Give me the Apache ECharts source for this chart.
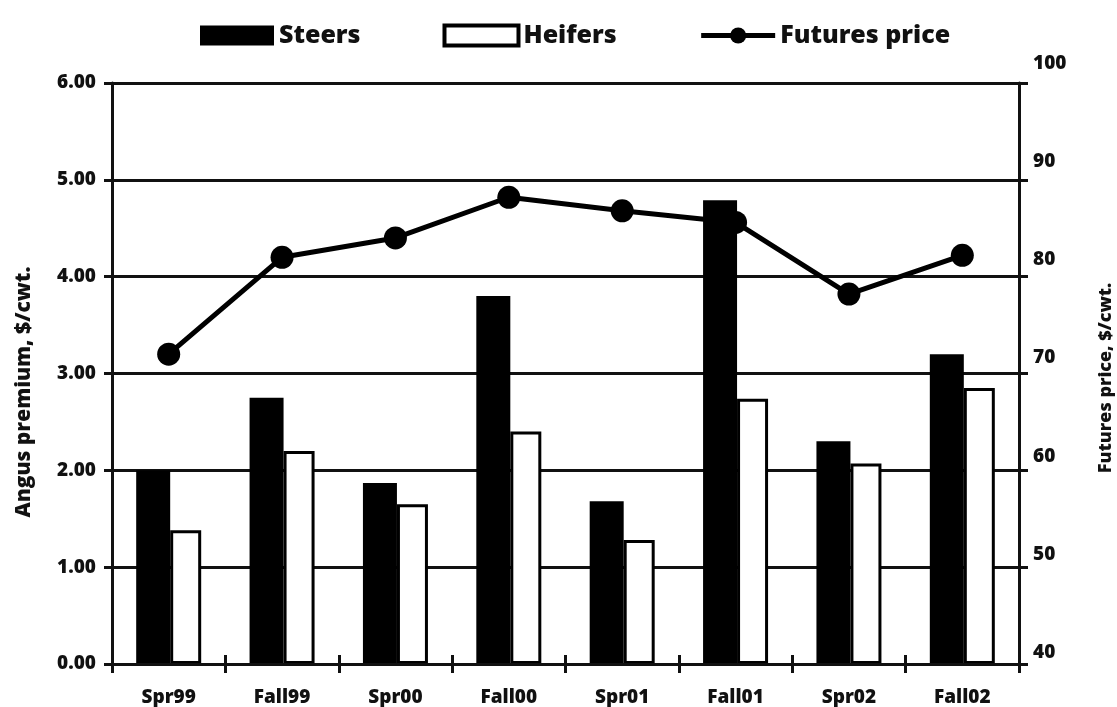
<!DOCTYPE html>
<html>
<head>
<meta charset="utf-8">
<script src="https://cdn.jsdelivr.net/npm/echarts@6/dist/echarts.min.js"></script>
<style>
  html, body { margin: 0; padding: 0; background: #fff; }
  #chart { width: 1117px; height: 707px; }
</style>
</head>
<body>
<div id="chart"></div>
<script>
// Sale seasons
const seasons = ['Spr99', 'Fall99', 'Spr00', 'Fall00', 'Spr01', 'Fall01', 'Spr02', 'Fall02'];
// Angus premium, $/cwt.
const steers  = [2.00, 2.75, 1.87, 3.80, 1.68, 4.79, 2.30, 3.20];
const heifers = [1.38, 2.20, 1.65, 2.40, 1.28, 2.74, 2.07, 2.85];
// Futures price, $/cwt.
const futures = [72.0, 82.0, 84.0, 88.2, 86.8, 85.6, 78.2, 82.2];

const FONT = 'Open Sans';
const INK = '#111';

const chart = echarts.init(document.getElementById('chart'), null, { renderer: 'canvas' });

const labelFont = { fontFamily: FONT, fontWeight: 800, fontSize: 19, color: INK };

// right-hand labels are printed above their ticks, the lift growing toward the top
const liftRich = {};
[40, 50, 60, 70, 80, 90, 100].forEach(v => {
  const lift = 13 + (v - 40) / 60 * 8;
  liftRich['t' + v] = Object.assign({ lineHeight: Math.round(2 * lift - 3) }, labelFont);
});

chart.setOption({
  animation: false,
  backgroundColor: '#fff',
  textStyle: { fontFamily: FONT },
  grid: { left: 112, right: 98, top: 83, bottom: 40, containLabel: false },
  legend: {
    left: 195,
    top: 18,
    itemWidth: 74,
    itemHeight: 20,
    itemGap: 82,
    textStyle: { fontFamily: FONT, fontWeight: 800, fontSize: 25, color: INK },
    data: [
      { name: 'Steers', icon: 'rect', itemStyle: { color: '#000' } },
      { name: 'Heifers', icon: 'rect', itemStyle: { color: '#fff', borderColor: '#000', borderWidth: 4 } },
      { name: 'Futures price', lineStyle: { color: '#000', width: 5 } }
    ]
  },
  xAxis: [
    {
      type: 'category',
      data: seasons,
      position: 'bottom',
      axisLine: { show: true, lineStyle: { color: INK, width: 3 } },
      axisTick: { show: true, length: 9, lineStyle: { color: INK, width: 3 } },
      axisLabel: Object.assign({ margin: 24 }, labelFont),
      splitLine: { show: false },
      z: 5
    },
    {
      // inner half of the crossing category ticks
      type: 'category',
      data: seasons,
      position: 'bottom',
      offset: 0,
      axisLine: { show: false },
      axisTick: { show: true, inside: true, length: 9, lineStyle: { color: INK, width: 3 } },
      axisLabel: { show: false },
      splitLine: { show: false },
      z: 5
    }
  ],
  yAxis: [
    {
      type: 'value',
      min: 0, max: 6, interval: 1,
      position: 'left',
      axisLine: { show: true, lineStyle: { color: INK, width: 3 } },
      axisTick: { show: true, length: 8, lineStyle: { color: INK, width: 3 } },
      axisLabel: Object.assign({ margin: 16, formatter: v => v.toFixed(2) }, labelFont),
      splitLine: { show: true, lineStyle: { color: INK, width: 3 } },
      z: 1
    },
    {
      type: 'value',
      min: 40, max: 100, interval: 10,
      position: 'right',
      axisLine: { show: true, lineStyle: { color: INK, width: 3 } },
      axisTick: { show: true, length: 9, lineStyle: { color: INK, width: 3 } },
      axisLabel: Object.assign({
        margin: 14,
        verticalAlign: 'middle',
        formatter: v => '{t' + v + '|' + v + '}\n{t' + v + '| }',
        rich: liftRich
      }, labelFont),
      splitLine: { show: false },
      z: 1
    }
  ],
  series: [
    {
      name: 'Steers',
      type: 'bar',
      data: steers,
      barWidth: 34,
      barGap: '0%',
      itemStyle: { color: '#000' },
      z: 3
    },
    {
      name: 'Heifers',
      type: 'bar',
      data: heifers,
      barWidth: 31,
      barGap: '0%',
      itemStyle: { color: '#fff', borderColor: '#000', borderWidth: 3 },
      z: 3
    },
    {
      name: 'Futures price',
      type: 'line',
      yAxisIndex: 1,
      data: futures,
      symbol: 'circle',
      symbolSize: 23,
      lineStyle: { color: '#000', width: 5 },
      itemStyle: { color: '#000' },
      z: 6
    }
  ],
  graphic: [
    {
      type: 'text',
      x: 24, y: 392,
      rotation: Math.PI / 2,
      style: {
        text: 'Angus premium, $/cwt.',
        fontFamily: FONT, fontWeight: 800, fontSize: 21,
        fill: INK, align: 'center', verticalAlign: 'middle'
      }
    },
    {
      type: 'text',
      x: 1106, y: 378,
      rotation: Math.PI / 2,
      style: {
        text: 'Futures price, $/cwt.',
        fontFamily: FONT, fontWeight: 800, fontSize: 18,
        fill: INK, align: 'center', verticalAlign: 'middle'
      }
    }
  ]
});
</script>
</body>
</html>
